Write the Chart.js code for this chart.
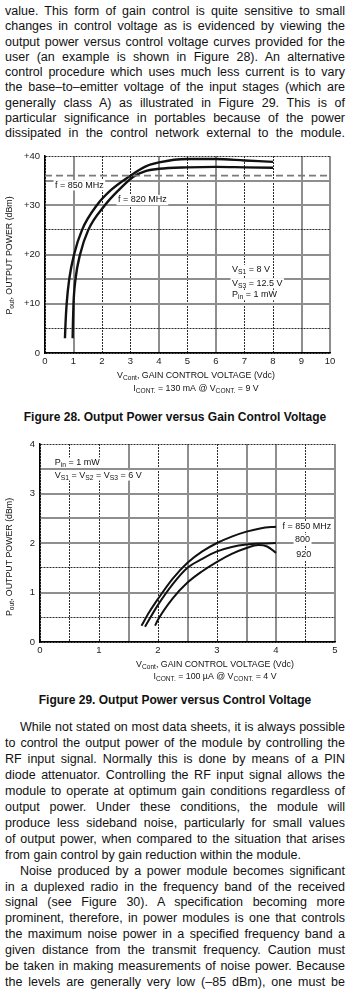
<!DOCTYPE html>
<html><head><meta charset="utf-8">
<script src="https://cdn.jsdelivr.net/npm/chart.js@4.4.1/dist/chart.umd.min.js"></script>
<style>
html,body{margin:0;padding:0;background:#fff;}
body{width:350px;height:993px;position:relative;overflow:hidden;font-family:"Liberation Sans",Arial,Helvetica,sans-serif;color:#111;}
.txt{position:absolute;left:5px;width:340px;font-size:12.5px;}
.l{white-space:nowrap;text-align:left;}
.l.ind{padding-left:15px;}
.cap{position:absolute;left:0;width:350px;text-align:center;font-weight:bold;font-size:12px;line-height:14px;}
canvas{position:absolute;left:0;}
</style></head>
<body>
<div class="txt" id="t1" style="top:4px;line-height:15.3px;">
<div class="l"><span>value. This form of gain control is quite sensitive to small</span></div>
<div class="l"><span>changes in control voltage as is evidenced by viewing the</span></div>
<div class="l"><span>output power versus control voltage curves provided for the</span></div>
<div class="l"><span>user (an example is shown in Figure 28). An alternative</span></div>
<div class="l"><span>control procedure which uses much less current is to vary</span></div>
<div class="l"><span>the base–to–emitter voltage of the input stages (which are</span></div>
<div class="l"><span>generally class A) as illustrated in Figure 29. This is of</span></div>
<div class="l"><span>particular significance in portables because of the power</span></div>
<div class="l"><span>dissipated in the control network external to the module.</span></div>
</div>

<canvas id="c1" width="350" height="255" style="top:145px"></canvas>
<div class="cap" style="top:410px;">Figure 28. Output Power versus Gain Control Voltage</div>

<canvas id="c2" width="350" height="255" style="top:432px"></canvas>
<div class="cap" style="top:693px;">Figure 29. Output Power versus Control Voltage</div>

<div class="txt" id="t2" style="top:720px;line-height:15.95px;">
<div class="l ind"><span>While not stated on most data sheets, it is always possible</span></div>
<div class="l"><span>to control the output power of the module by controlling the</span></div>
<div class="l"><span>RF input signal. Normally this is done by means of a PIN</span></div>
<div class="l"><span>diode attenuator. Controlling the RF input signal allows the</span></div>
<div class="l"><span>module to operate at optimum gain conditions regardless of</span></div>
<div class="l"><span>output power. Under these conditions, the module will</span></div>
<div class="l"><span>produce less sideband noise, particularly for small values</span></div>
<div class="l"><span>of output power, when compared to the situation that arises</span></div>
<div class="l end"><span>from gain control by gain reduction within the module.</span></div>
<div class="l ind"><span>Noise produced by a power module becomes significant</span></div>
<div class="l"><span>in a duplexed radio in the frequency band of the received</span></div>
<div class="l"><span>signal (see Figure 30). A specification becoming more</span></div>
<div class="l"><span>prominent, therefore, in power modules is one that controls</span></div>
<div class="l"><span>the maximum noise power in a specified frequency band a</span></div>
<div class="l"><span>given distance from the transmit frequency. Caution must</span></div>
<div class="l"><span>be taken in making measurements of noise power. Because</span></div>
<div class="l"><span>the levels are generally very low (–85 dBm), one must be</span></div>
</div>

<script>
// ---------- Figure 28 data ----------
const fig28VoltsF850 = [0.70, 0.72, 0.76, 0.85, 1.02, 1.30, 1.82, 2.30, 3.00, 3.50, 4.00, 5.00, 6.00, 7.00, 8.00];
const fig28PowerF850 = [3.0, 6.0, 10.0, 15.0, 20.0, 25.0, 30.0, 33.0, 36.0, 37.8, 38.7, 39.4, 39.4, 39.1, 38.8];
const fig28VoltsF820 = [0.97, 0.98, 1.00, 1.07, 1.23, 1.52, 2.10, 2.57, 3.10, 3.50, 4.00, 5.00, 6.00, 7.00, 8.00];
const fig28PowerF820 = [3.0, 6.0, 10.0, 15.0, 20.0, 25.0, 30.0, 33.0, 35.8, 36.9, 37.4, 37.7, 37.8, 37.7, 37.6];
const fig28SpecPower = 36;
const fig28XTicks = [0,1,2,3,4,5,6,7,8,9,10];
const fig28YTickLabels = {0:'0',10:'+10',20:'+20',30:'+30',40:'+40'};

// ---------- Figure 29 data ----------
const fig29VoltsF850 = [1.72, 1.85, 2.00, 2.25, 2.50, 2.75, 3.00, 3.25, 3.50, 3.75, 4.00];
const fig29PowerF850 = [0.33, 0.60, 0.87, 1.28, 1.60, 1.83, 2.00, 2.13, 2.23, 2.30, 2.33];
const fig29VoltsF800 = [1.78, 2.00, 2.25, 2.50, 2.75, 3.00, 3.25, 3.50, 3.75, 4.00];
const fig29PowerF800 = [0.31, 0.75, 1.17, 1.50, 1.68, 1.83, 1.92, 1.97, 1.99, 2.00];
const fig29VoltsF920 = [1.95, 2.00, 2.25, 2.50, 2.75, 3.00, 3.25, 3.50, 3.70, 3.85, 4.00];
const fig29PowerF920 = [0.33, 0.45, 0.88, 1.20, 1.43, 1.62, 1.78, 1.90, 1.96, 1.93, 1.80];
const fig29XTicks = [0,1,2,3,4,5];
const fig29YTicks = [0,1,2,3,4];

// ---------- justify text lines ----------
document.querySelectorAll('.l').forEach(el=>{
  if(el.classList.contains('end')) return;
  const span = el.firstElementChild;
  const avail = 340 - (el.classList.contains('ind')?15:0);
  const w = span.getBoundingClientRect().width;
  const n = (span.textContent.match(/ /g)||[]).length;
  if(n) span.style.wordSpacing = ((avail - w)/n)+'px';
});

const FONT = '"Liberation Sans", Arial, Helvetica, sans-serif';
const GRAY = '#8e8e8e', DOT = '#2a2a2a';

function pts(xs, ys){ return xs.map((x,i)=>({x, y: ys[i]})); }
function near(v, list){ return list.some(a=>Math.abs(a-v)<1e-6); }
function gridOpts(grayList){
  return {
    drawTicks:false,
    color: c => near(c.tick.value, grayList) ? GRAY : DOT,
    lineWidth: c => near(c.tick.value, grayList) ? 2 : 1
  };
}
function borderOpts(grayList){
  return { color:'#000', width:1.5, dash: c => (c.tick && !near(c.tick.value, grayList)) ? [2,1] : [] };
}

// rich text: parts = [[text, sub?], ...]
function richWidth(ctx, parts, size){
  let w=0;
  for(const [t,sub] of parts){ ctx.font = (sub? size*0.75 : size)+'px '+FONT; w += ctx.measureText(t).width; }
  return w;
}
function drawRich(ctx, parts, x, y, size, align, bg){
  const w = richWidth(ctx, parts, size);
  let sx = align==='center' ? x - w/2 : (align==='right' ? x - w : x);
  if(bg){ ctx.fillStyle='#fff'; ctx.fillRect(sx-1.5, y-size*0.55, w+3, size*1.15); }
  ctx.fillStyle='#111'; ctx.textBaseline='middle'; ctx.textAlign='left';
  for(const [t,sub] of parts){
    ctx.font = (sub? size*0.75 : size)+'px '+FONT;
    ctx.fillText(t, sx, sub ? y + size*0.3 : y);
    sx += ctx.measureText(t).width;
  }
}
function notesPlugin(cfg){
  return {
    id:'notes',
    afterDatasetsDraw(chart){
      const ctx = chart.ctx, xs = chart.scales.x, ys = chart.scales.y;
      ctx.save();
      for(const n of cfg.notes){
        drawRich(ctx, n.parts, xs.getPixelForValue(n.x), ys.getPixelForValue(n.y), n.size||9, n.align||'left', true);
      }
      ctx.restore();
    },
    afterDraw(chart){
      const ctx = chart.ctx, a = chart.chartArea;
      ctx.save();
      ctx.translate(cfg.yTitleX, (a.top+a.bottom)/2 + cfg.yTitleDy);
      ctx.rotate(-Math.PI/2);
      drawRich(ctx, cfg.yTitle, 0, 0, 8.8, 'center', false);
      ctx.restore();
      ctx.save();
      cfg.xTitle.forEach((parts,i)=>{
        drawRich(ctx, parts, cfg.xTitleX, a.bottom + cfg.xTitleDy + i*cfg.xTitleGap, 8.8, 'center', false);
      });
      ctx.restore();
    }
  };
}
const yTitleParts = [['P',0],['out',1],[', OUTPUT POWER (dBm)',0]];
const lineDS = (data, w) => ({data, borderColor:'#111', borderWidth:w, pointRadius:0, fill:false, cubicInterpolationMode:'monotone'});

// ---------- Figure 28 ----------
new Chart(document.getElementById('c1'), {
  type:'line',
  data:{datasets:[
    {...lineDS(pts([fig28XTicks[0], fig28XTicks[fig28XTicks.length-1]],[fig28SpecPower,fig28SpecPower]),1.8), borderColor:'#7a7a7a', borderDash:[7,4], cubicInterpolationMode:'default', tension:0},
    lineDS(pts(fig28VoltsF850, fig28PowerF850), 2.4),
    lineDS(pts(fig28VoltsF820, fig28PowerF820), 2.4)
  ]},
  options:{
    responsive:false, animation:false, devicePixelRatio:1,
    layout:{padding:{left:0,right:20,top:11,bottom:0}},
    plugins:{legend:{display:false}, tooltip:{enabled:false}},
    scales:{
      x:{type:'linear', min:0, max:10,
        afterBuildTicks: s => { s.ticks = fig28XTicks.map(v=>({value:v})); },
        ticks:{padding:3, color:'#222', font:{family:FONT,size:9.5}, maxRotation:0, callback:v=>String(v)},
        grid:gridOpts([1,4,6,9,10]), border:borderOpts([1,4,6,9,10]),
        afterFit: s => { s.height = 47; }},
      y:{type:'linear', min:0, max:40,
        ticks:{stepSize:5, padding:5, color:'#222', font:{family:FONT,size:9.5}, callback:v=> (v in fig28YTickLabels) ? fig28YTickLabels[v] : ''},
        grid:gridOpts([10,15,20,30,35]), border:borderOpts([10,15,20,30,35]),
        afterFit: s => { s.width = 45; }}
    }
  },
  plugins:[notesPlugin({
    notes:[
      {x:0.35, y:34.1, parts:[['f = 850 MHz',0]]},
      {x:2.56, y:31.1, parts:[['f = 820 MHz',0]]},
      {x:6.56, y:16.9, parts:[['V',0],['S1',1],[' = 8 V',0]]},
      {x:6.56, y:14.2, parts:[['V',0],['S3',1],[' = 12.5 V',0]]},
      {x:6.56, y:11.8, parts:[['P',0],['in',1],[' = 1 mW',0]]}
    ],
    yTitle:yTitleParts, yTitleX:10, yTitleDy:1,
    xTitle:[[['V',0],['Cont',1],[', GAIN CONTROL VOLTAGE (Vdc)',0]], [['I',0],['CONT.',1],[' = 130 mA @ V',0],['CONT.',1],[' = 9 V',0]]],
    xTitleX:196, xTitleDy:23, xTitleGap:13
  })]
});

// ---------- Figure 29 ----------
new Chart(document.getElementById('c2'), {
  type:'line',
  data:{datasets:[
    lineDS(pts(fig29VoltsF850, fig29PowerF850), 2),
    lineDS(pts(fig29VoltsF800, fig29PowerF800), 2),
    lineDS(pts(fig29VoltsF920, fig29PowerF920), 2)
  ]},
  options:{
    responsive:false, animation:false, devicePixelRatio:1,
    layout:{padding:{left:0,right:15,top:12,bottom:0}},
    plugins:{legend:{display:false}, tooltip:{enabled:false}},
    scales:{
      x:{type:'linear', min:0, max:5,
        ticks:{stepSize:0.5, padding:3, color:'#222', font:{family:FONT,size:9.5}, maxRotation:0, autoSkip:false, callback:v=> fig29XTicks.includes(v) ? String(v) : ''},
        grid:gridOpts([1.5,2.5,3.5,4,5]), border:borderOpts([1.5,2.5,3.5,4,5]),
        afterFit: s => { s.height = 45; }},
      y:{type:'linear', min:0, max:4,
        ticks:{stepSize:0.5, padding:5, color:'#222', font:{family:FONT,size:9.5}, autoSkip:false, callback:v=> fig29YTicks.includes(v) ? String(v) : ''},
        grid:gridOpts([1,2,2.5,3,3.5]), border:borderOpts([1,2,2.5,3,3.5]),
        afterFit: s => { s.width = 40; }}
    }
  },
  plugins:[notesPlugin({
    notes:[
      {x:0.25, y:3.63, parts:[['P',0],['in',1],[' = 1 mW',0]]},
      {x:0.25, y:3.37, parts:[['V',0],['S1',1],[' = V',0],['S2',1],[' = V',0],['S3',1],[' = 6 V',0]]},
      {x:4.11, y:2.33, parts:[['f = 850 MHz',0]]},
      {x:4.45, y:2.07, parts:[['800',0]], align:'center'},
      {x:4.47, y:1.76, parts:[['920',0]], align:'center'}
    ],
    yTitle:yTitleParts, yTitleX:10, yTitleDy:14,
    xTitle:[[['V',0],['Cont',1],[', GAIN CONTROL VOLTAGE (Vdc)',0]], [['I',0],['CONT.',1],[' = 100 µA @ V',0],['CONT.',1],[' = 4 V',0]]],
    xTitleX:215, xTitleDy:23, xTitleGap:12
  })]
});
</script>
</body></html>
